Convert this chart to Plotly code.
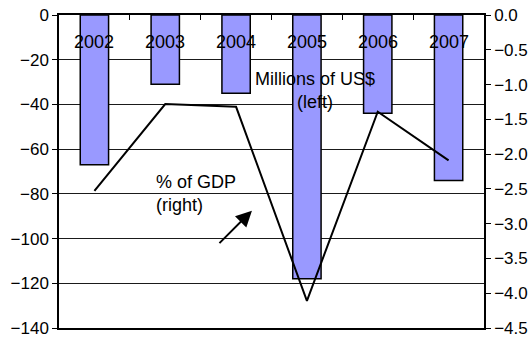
import plotly.graph_objects as go

years = ["2002", "2003", "2004", "2005", "2006", "2007"]
millions_usd = [-67, -31, -35, -118, -44, -74]
pct_gdp = [-2.53, -1.28, -1.32, -4.11, -1.39, -2.09]

FONT = "Liberation Sans, Arial, sans-serif"
TICK_FS = 17
TEXT_FS = 18

fig = go.Figure()
fig.add_trace(go.Bar(
    x=years, y=millions_usd, yaxis="y",
    marker=dict(color="#9999FF", line=dict(color="#000000", width=1.5)),
    width=0.4, showlegend=False,
))
fig.add_trace(go.Scatter(
    x=years, y=pct_gdp, yaxis="y2", mode="lines",
    line=dict(color="#000000", width=2), showlegend=False,
))

# year labels sit just under the top (zero) axis line, over the bars;
# positioned by category index on the category axis
year_labels = [
    dict(text=yr, x=i, xref="x", y=1, yref="paper", yanchor="middle",
         yshift=-27, showarrow=False, font=dict(size=TEXT_FS))
    for i, yr in enumerate(years)
]

fig.update_layout(
    template="none",
    width=532, height=339,
    margin=dict(l=59, r=48, t=15, b=11, autoexpand=False),
    paper_bgcolor="white", plot_bgcolor="white",
    font=dict(family=FONT, size=TICK_FS, color="#000000"),
    xaxis=dict(
        type="category", side="top", automargin=False,
        categoryorder="array", categoryarray=years,
        range=[-0.5, len(years) - 0.5],
        showline=True, linecolor="#000000", linewidth=1.5, mirror=True,
        ticks="inside", ticklen=5, tickcolor="#000000", tickson="boundaries",
        showticklabels=False,
        showgrid=False, zeroline=False,
    ),
    yaxis=dict(
        range=[-140, 0], dtick=20, automargin=False,
        showline=True, linecolor="#000000", linewidth=1.5,
        ticks="outside", ticklen=5, tickcolor="#000000",
        ticklabeloverflow="allow",
        showgrid=True, gridcolor="#1a1a1a", gridwidth=1,
        zeroline=False, tickfont=dict(size=TICK_FS),
    ),
    yaxis2=dict(
        range=[-4.5, 0], dtick=0.5, tickformat=".1f", automargin=False,
        overlaying="y", side="right",
        showline=True, linecolor="#000000", linewidth=1.5,
        ticks="outside", ticklen=5, tickcolor="#000000",
        ticklabeloverflow="allow",
        showgrid=False, zeroline=False, tickfont=dict(size=TICK_FS),
    ),
    annotations=year_labels + [
        dict(text="Millions of US$<br>(left)", xref="paper", yref="paper",
             x=0.602, y=0.76, xanchor="center", yanchor="middle",
             showarrow=False, align="center", font=dict(size=TEXT_FS)),
        dict(text="% of GDP<br>(right)", xref="paper", yref="paper",
             x=0.2235, y=0.43, xanchor="left", yanchor="middle",
             showarrow=False, align="left", font=dict(size=TEXT_FS)),
        dict(text="", xref="paper", yref="paper", x=0.454, y=0.375,
             ax=-34, ay=34, showarrow=True, arrowhead=2, arrowsize=1.6,
             arrowwidth=2, arrowcolor="#000000"),
    ],
)

fig.write_html("out.html")
